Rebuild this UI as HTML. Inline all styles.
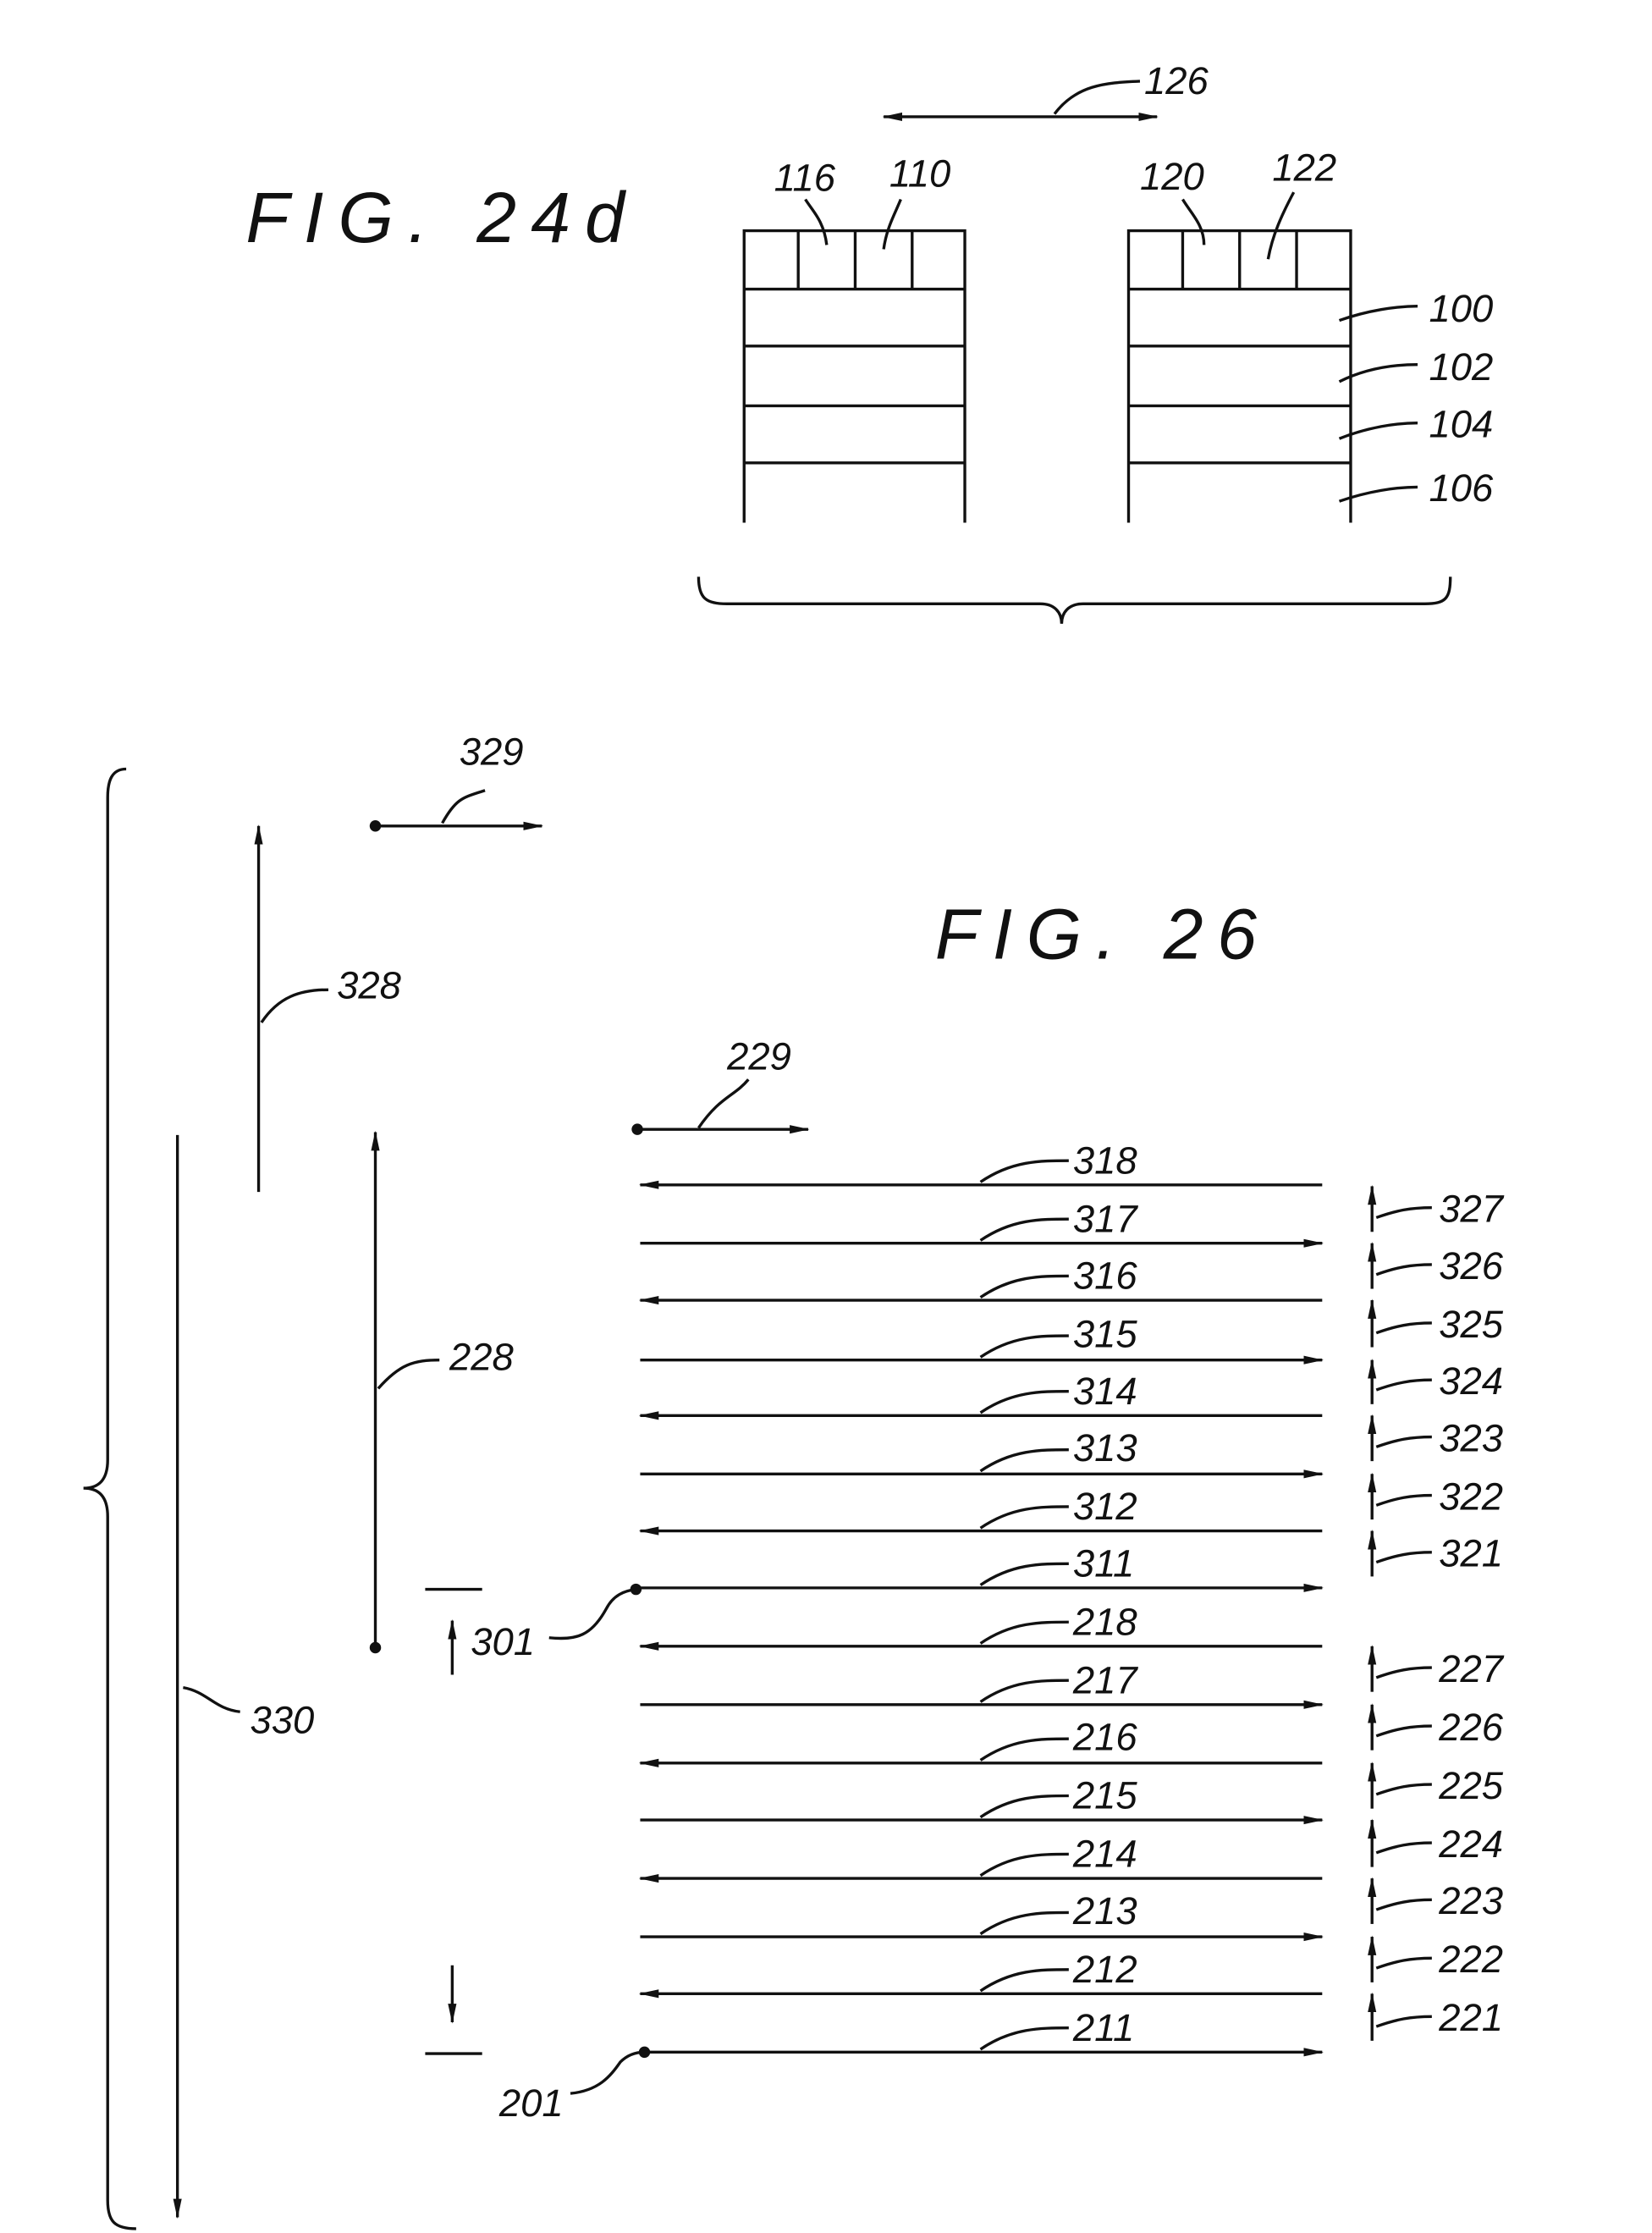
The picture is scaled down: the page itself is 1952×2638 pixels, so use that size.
<!DOCTYPE html>
<html><head><meta charset="utf-8"><style>
html,body{margin:0;padding:0;background:#fff}
svg{display:block}
text{font-family:"Liberation Sans",sans-serif;font-style:italic;fill:#111}
</style></head><body>
<svg width="1952" height="2638" viewBox="0 0 1159 1568" xmlns="http://www.w3.org/2000/svg">
<defs>
<marker id="a" markerWidth="14" markerHeight="8" refX="13" refY="4" orient="auto" markerUnits="userSpaceOnUse"><path d="M0,1 L14,4 L0,7 Z" fill="#111"/></marker>
<marker id="b" markerWidth="14" markerHeight="8" refX="1" refY="4" orient="auto" markerUnits="userSpaceOnUse"><path d="M14,1 L0,4 L14,7 Z" fill="#111"/></marker>
</defs>
<g stroke="#111" stroke-width="2" fill="none">
<line x1="620" y1="82" x2="812" y2="82" marker-start="url(#b)" marker-end="url(#a)"/>
<path d="M740,80 C755,60 775,58 800,57"/>
<path d="M522,367 V162 H677 V367 M522,203 H677 M522,243 H677 M522,285 H677 M522,325 H677 M560,162 V203 M600,162 V203 M640,162 V203"/>
<path d="M792,367 V162 H948 V367 M792,203 H948 M792,243 H948 M792,285 H948 M792,325 H948 M830,162 V203 M870,162 V203 M910,162 V203"/>
<path d="M580,172 C578,155 570,148 565,140"/>
<path d="M620,175 C622,160 628,150 632,140"/>
<path d="M845,172 C845,158 836,150 830,140"/>
<path d="M890,182 C893,165 900,150 908,135"/>
<path d="M940,225 C960,218 980,215 995,215"/>
<path d="M940,268 C960,258 980,256 995,256"/>
<path d="M940,308 C960,300 980,297 995,297"/>
<path d="M940,352 C960,345 980,342 995,342"/>
<path d="M490,405 C490,420 495,424 510,424 H730 C740,424 745,430 745,438 C745,430 750,424 760,424 H1000 C1015,424 1018,420 1018,405"/>
<path d="M88,540 C78,540 75,548 75,560 V1025 C75,1040 68,1045 58,1045 C68,1045 75,1050 75,1065 V1545 C75,1560 80,1565 95,1565"/>
<line x1="124" y1="797" x2="124" y2="1557" marker-end="url(#a)"/>
<path d="M128,1185 C145,1188 150,1200 168,1202"/>
<line x1="181" y1="837" x2="181" y2="580" marker-end="url(#a)"/>
<path d="M183,718 C195,700 210,695 230,695"/>
<line x1="263" y1="580" x2="380" y2="580" marker-end="url(#a)"/>
<path d="M310,578 C320,560 325,560 340,555"/>
<line x1="263" y1="1157" x2="263" y2="795" marker-end="url(#a)"/>
<path d="M265,975 C280,958 290,955 308,955"/>
<line x1="447" y1="793" x2="567" y2="793" marker-end="url(#a)"/>
<path d="M490,792 C505,770 515,770 525,758"/>
<path d="M298,1116 H338 M298,1442 H338"/>
<line x1="317" y1="1176" x2="317" y2="1138" marker-end="url(#a)"/>
<line x1="317" y1="1380" x2="317" y2="1420" marker-end="url(#a)"/>
<path d="M385,1150 C405,1152 415,1148 425,1130 C430,1120 438,1117 446,1116"/>
<path d="M400,1470 C420,1468 428,1458 435,1448 C440,1443 446,1441 452,1441"/>
</g>
<g fill="#111">
<circle cx="263" cy="580" r="4"/><circle cx="263" cy="1157" r="4"/><circle cx="447" cy="793" r="4"/>
<circle cx="446" cy="1116" r="4"/><circle cx="452" cy="1441" r="4"/>
</g>
<g stroke="#111" stroke-width="2" fill="none">
<line x1="928" y1="832" x2="449" y2="832" marker-end="url(#a)"/>
<line x1="449" y1="873" x2="928" y2="873" marker-end="url(#a)"/>
<line x1="928" y1="913" x2="449" y2="913" marker-end="url(#a)"/>
<line x1="449" y1="955" x2="928" y2="955" marker-end="url(#a)"/>
<line x1="928" y1="994" x2="449" y2="994" marker-end="url(#a)"/>
<line x1="449" y1="1035" x2="928" y2="1035" marker-end="url(#a)"/>
<line x1="928" y1="1075" x2="449" y2="1075" marker-end="url(#a)"/>
<line x1="449" y1="1115" x2="928" y2="1115" marker-end="url(#a)"/>
<line x1="928" y1="1156" x2="449" y2="1156" marker-end="url(#a)"/>
<line x1="449" y1="1197" x2="928" y2="1197" marker-end="url(#a)"/>
<line x1="928" y1="1238" x2="449" y2="1238" marker-end="url(#a)"/>
<line x1="449" y1="1278" x2="928" y2="1278" marker-end="url(#a)"/>
<line x1="928" y1="1319" x2="449" y2="1319" marker-end="url(#a)"/>
<line x1="449" y1="1360" x2="928" y2="1360" marker-end="url(#a)"/>
<line x1="928" y1="1400" x2="449" y2="1400" marker-end="url(#a)"/>
<line x1="449" y1="1441" x2="928" y2="1441" marker-end="url(#a)"/>
<path d="M688,830 C710,815 730,815 750,815 M688,871 C710,856 730,856 750,856 M688,911 C710,896 730,896 750,896 M688,953 C710,938 730,938 750,938 M688,992 C710,977 730,977 750,977 M688,1033 C710,1018 730,1018 750,1018 M688,1073 C710,1058 730,1058 750,1058 M688,1113 C710,1098 730,1098 750,1098 M688,1154 C710,1139 730,1139 750,1139 M688,1195 C710,1180 730,1180 750,1180 M688,1236 C710,1221 730,1221 750,1221 M688,1276 C710,1261 730,1261 750,1261 M688,1317 C710,1302 730,1302 750,1302 M688,1358 C710,1343 730,1343 750,1343 M688,1398 C710,1383 730,1383 750,1383 M688,1439 C710,1424 730,1424 750,1424"/>
<line x1="963" y1="865" x2="963" y2="833" marker-end="url(#a)"/>
<line x1="963" y1="905" x2="963" y2="873" marker-end="url(#a)"/>
<line x1="963" y1="946" x2="963" y2="913" marker-end="url(#a)"/>
<line x1="963" y1="986" x2="963" y2="955" marker-end="url(#a)"/>
<line x1="963" y1="1026" x2="963" y2="994" marker-end="url(#a)"/>
<line x1="963" y1="1067" x2="963" y2="1035" marker-end="url(#a)"/>
<line x1="963" y1="1107" x2="963" y2="1075" marker-end="url(#a)"/>
<line x1="963" y1="1188" x2="963" y2="1156" marker-end="url(#a)"/>
<line x1="963" y1="1229" x2="963" y2="1197" marker-end="url(#a)"/>
<line x1="963" y1="1270" x2="963" y2="1238" marker-end="url(#a)"/>
<line x1="963" y1="1311" x2="963" y2="1278" marker-end="url(#a)"/>
<line x1="963" y1="1351" x2="963" y2="1319" marker-end="url(#a)"/>
<line x1="963" y1="1392" x2="963" y2="1360" marker-end="url(#a)"/>
<line x1="963" y1="1433" x2="963" y2="1400" marker-end="url(#a)"/>
<path d="M966,855 C980,850 990,848 1005,848 M966,895 C980,890 990,888 1005,888 M966,936 C980,931 990,929 1005,929 M966,976 C980,971 990,969 1005,969 M966,1016 C980,1011 990,1009 1005,1009 M966,1057 C980,1052 990,1050 1005,1050 M966,1097 C980,1092 990,1090 1005,1090 M966,1178 C980,1173 990,1171 1005,1171 M966,1219 C980,1214 990,1212 1005,1212 M966,1260 C980,1255 990,1253 1005,1253 M966,1301 C980,1296 990,1294 1005,1294 M966,1341 C980,1336 990,1334 1005,1334 M966,1382 C980,1377 990,1375 1005,1375 M966,1423 C980,1418 990,1416 1005,1416"/>
</g>
<g font-size="50">
<text x="172" y="170" textLength="266" lengthAdjust="spacing">FIG.  24d</text>
<text x="656" y="673" textLength="226" lengthAdjust="spacing">FIG.  26</text>
</g>
<g font-size="27">
<text x="803" y="66">126</text>
<text x="543" y="134">116</text><text x="624" y="131">110</text>
<text x="800" y="133">120</text><text x="893" y="127">122</text>
<text x="1003" y="226">100</text><text x="1003" y="267">102</text><text x="1003" y="307">104</text><text x="1003" y="352">106</text>
<text x="322" y="537">329</text><text x="236" y="701">328</text><text x="315" y="962">228</text><text x="510" y="751">229</text>
<text x="175" y="1217">330</text><text x="330" y="1162">301</text><text x="350" y="1486">201</text>
<text x="753" y="824">318</text><text x="753" y="865">317</text><text x="753" y="905">316</text><text x="753" y="946">315</text>
<text x="753" y="986">314</text><text x="753" y="1026">313</text><text x="753" y="1067">312</text><text x="753" y="1107">311</text>
<text x="753" y="1148">218</text><text x="753" y="1189">217</text><text x="753" y="1229">216</text><text x="753" y="1270">215</text>
<text x="753" y="1311">214</text><text x="753" y="1351">213</text><text x="753" y="1392">212</text><text x="753" y="1433">211</text>
<text x="1010" y="858">327</text><text x="1010" y="898">326</text><text x="1010" y="939">325</text><text x="1010" y="979">324</text>
<text x="1010" y="1019">323</text><text x="1010" y="1060">322</text><text x="1010" y="1100">321</text>
<text x="1010" y="1181">227</text><text x="1010" y="1222">226</text><text x="1010" y="1263">225</text><text x="1010" y="1304">224</text>
<text x="1010" y="1344">223</text><text x="1010" y="1385">222</text><text x="1010" y="1426">221</text>
</g>
</svg>
</body></html>
